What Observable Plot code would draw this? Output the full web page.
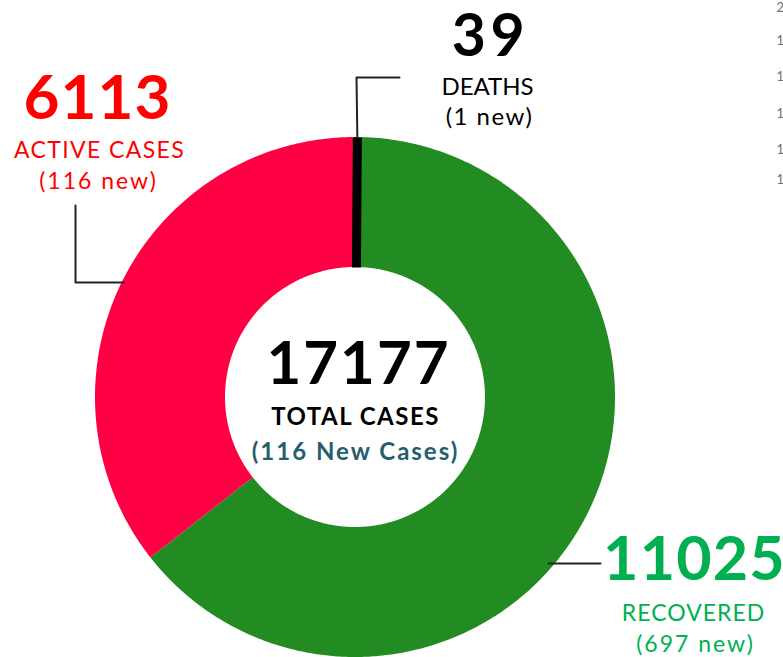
<!DOCTYPE html>
<html><head><meta charset="utf-8">
<script src="https://cdn.jsdelivr.net/npm/d3@7"></script>
<script src="https://cdn.jsdelivr.net/npm/@observablehq/plot@0.6"></script>
<style>body{margin:0;background:#fff;} svg{display:block;}</style>
</head><body><div id="chart"></div>
<script>
// ---- data ----
const categories = ["DEATHS", "RECOVERED", "ACTIVE CASES"];
const totals = [39, 11025, 6113];
const newCounts = [1, 697, 116];
const totalCases = 17177;
const totalNewCases = 116;
const sideTicks = ["2", "1", "1", "1", "1", "1"];

// ---- styling / layout (pixel units, origin at donut centre, y down) ----
const sliceColors = ["#000000", "#228b22", "#ff0044"];
const labelColors = ["#000000", "#00b050", "#ff0000"];
const R = 260, r = 130;

const rows = categories.map((c, i) => ({key: c, value: totals[i], color: sliceColors[i]}));
const arcs = d3.pie().sort(null).value(d => d.value)(rows);

const ringPts = [];
for (const a of arcs) {
  const n = Math.max(2, Math.ceil((a.endAngle - a.startAngle) / (Math.PI / 360)));
  for (let i = 0; i <= n; i++) {
    const t = a.startAngle + (a.endAngle - a.startAngle) * i / n;
    ringPts.push({key: a.data.key, color: a.data.color,
      xo: R * Math.sin(t), yo: -R * Math.cos(t),
      xi: r * Math.sin(t), yi: -r * Math.cos(t)});
  }
}
const deathArc = arcs[0];
const mid = (deathArc.startAngle + deathArc.endAngle) / 2;
const deathBar = [{x1: r * Math.sin(mid), y1: -r * Math.cos(mid), x2: R * Math.sin(mid), y2: -R * Math.cos(mid)}];

const leaders = [
  {id: "d", x: R * Math.sin(mid), y: -R * Math.cos(mid)}, {id: "d", x: 1, y: -320}, {id: "d", x: 44, y: -320},
  {id: "a", x: -280, y: -192}, {id: "a", x: -280, y: -115}, {id: "a", x: -232, y: -115},
  {id: "r", x: 193, y: 166}, {id: "r", x: 245, y: 166}
];

const bigLabels = [
  {text: String(totals[0]), x: 135, y: -342, size: 59, ls: 4.5, color: labelColors[0]},
  {text: String(totals[2]), x: -258, y: -279, size: 62, ls: 1, color: labelColors[2]},
  {text: String(totals[1]), x: 339, y: 182, size: 61, ls: 1.2, color: labelColors[1]},
  {text: String(totalCases), x: 3, y: -14, size: 60, ls: 2, color: "#000000"}
];
const smallLabels = [
  {text: categories[0], x: 132, y: -303, size: 24, ls: 0, color: labelColors[0]},
  {text: `(${newCounts[0]} new)`, x: 134, y: -273, size: 24, ls: 1.5, color: labelColors[0]},
  {text: categories[2], x: -256, y: -240, size: 23, ls: 1.4, color: labelColors[2]},
  {text: `(${newCounts[2]} new)`, x: -257, y: -209, size: 23, ls: 2, color: labelColors[2]},
  {text: categories[1], x: 338, y: 223, size: 23, ls: 1, color: labelColors[1]},
  {text: `(${newCounts[1]} new)`, x: 340, y: 254, size: 23, ls: 2, color: labelColors[1]}
];
const centerLabels = [
  {text: "TOTAL CASES", x: 0, y: 27, size: 24, ls: 1.5, color: "#000000"},
  {text: `(${totalNewCases} New Cases)`, x: 0, y: 62, size: 24, ls: 2, color: "#255e6e"}
];
const tickY = [-390, -357, -321, -284, -248, -218];
const ticks = sideTicks.map((t, i) => ({text: t, x: 421, y: tickY[i], ls: 0}));

const textSets = [bigLabels, smallLabels, centerLabels, ticks];

const chart = Plot.plot({
  width: 783, height: 657, margin: 0,
  x: {domain: [-355, 428], axis: null},
  y: {domain: [-397, 260], range: [0, 657], axis: null},
  color: {type: "identity"},
  style: {fontFamily: "Lato, 'Open Sans', sans-serif", background: "#fff", overflow: "visible"},
  marks: [
    Plot.area(ringPts, {x1: "xo", y1: "yo", x2: "xi", y2: "yi", z: "key", fill: "color"}),
    Plot.link(deathBar, {x1: "x1", y1: "y1", x2: "x2", y2: "y2", stroke: "#000", strokeWidth: 9}),
    Plot.line(leaders, {x: "x", y: "y", z: "id", stroke: "#222", strokeWidth: 2}),
    Plot.text(bigLabels, {x: "x", y: "y", text: "text", fill: "color", fontSize: "size", fontWeight: "bold", lineAnchor: "bottom", textAnchor: "middle"}),
    Plot.text(smallLabels, {x: "x", y: "y", text: "text", fill: "color", fontSize: "size", lineAnchor: "bottom", textAnchor: "middle"}),
    Plot.text(centerLabels, {x: "x", y: "y", text: "text", fill: "color", fontSize: "size", fontWeight: "bold", lineAnchor: "bottom", textAnchor: "middle"}),
    Plot.text(ticks, {x: "x", y: "y", text: "text", fill: "#6f6f6f", fontSize: 13, lineAnchor: "middle", textAnchor: "start"})
  ]
});
// letter-spacing per label to approximate the original geometric typeface widths
const groups = chart.querySelectorAll('g[aria-label="text"]');
groups.forEach((g, gi) => {
  const set = textSets[gi];
  if (!set) return;
  g.querySelectorAll("text").forEach((t, i) => {
    if (set[i] && set[i].ls) t.setAttribute("letter-spacing", set[i].ls);
  });
});
document.getElementById("chart").appendChild(chart);
</script>
</body></html>
